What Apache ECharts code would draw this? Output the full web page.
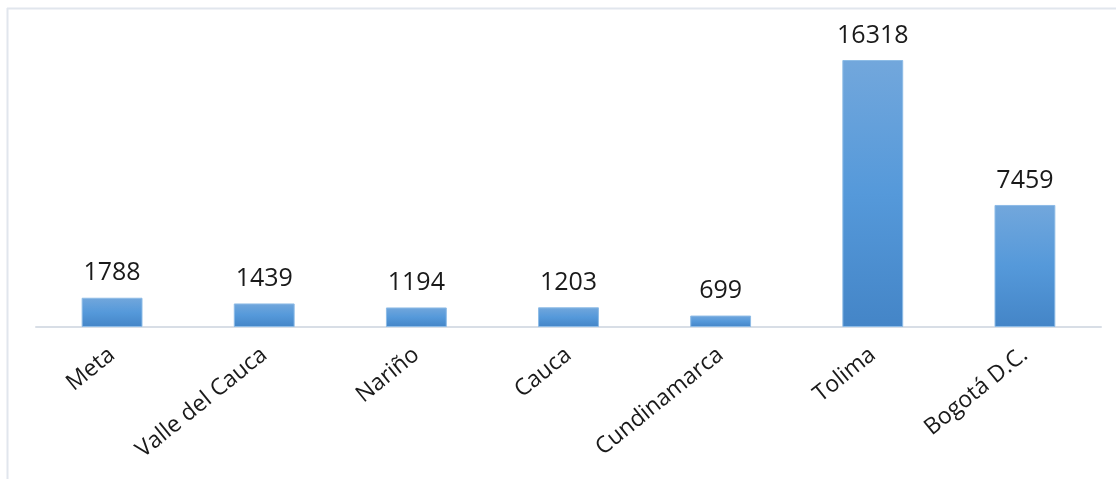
<!DOCTYPE html>
<html>
<head>
<meta charset="utf-8">
<script src="https://cdn.jsdelivr.net/npm/echarts@6/dist/echarts.min.js"></script>
<style>
html,body{margin:0;padding:0;background:#fff;}
#chart{width:1116px;height:479px;}
</style>
</head>
<body>
<div id="chart"></div>
<script>
const categories = ['Meta', 'Valle del Cauca', 'Nariño', 'Cauca', 'Cundinamarca', 'Tolima', 'Bogotá D.C.'];
const values = [1788, 1439, 1194, 1203, 699, 16318, 7459];

const chart = echarts.init(document.getElementById('chart'), null, {renderer: 'canvas'});
chart.setOption({
  animation: false,
  backgroundColor: '#ffffff',
  graphic: [
    {type: 'line', shape: {x1: 7, y1: 8.5, x2: 1116, y2: 8.5}, style: {stroke: '#e1e6ed', lineWidth: 2}},
    {type: 'line', shape: {x1: 7.5, y1: 8, x2: 7.5, y2: 479}, style: {stroke: '#e1e6ed', lineWidth: 2}}
  ],
  grid: {left: 36, right: 15, top: 32.5, bottom: 152, containLabel: false},
  xAxis: {
    type: 'category',
    data: categories,
    axisTick: {show: false},
    axisLine: {show: true, lineStyle: {color: '#d8dee6', width: 2}},
    axisLabel: {
      rotate: 39,
      margin: 25,
      interval: 0,
      color: '#1a1a1a',
      fontFamily: 'Open Sans',
      fontSize: 23
    }
  },
  yAxis: {
    type: 'value',
    min: 0,
    max: 18000,
    show: false,
    splitLine: {show: false}
  },
  series: [{
    type: 'bar',
    data: values,
    barWidth: '40%',
    itemStyle: {
      color: new echarts.graphic.LinearGradient(0, 0, 0, 1, [
        {offset: 0, color: '#72a7dc'},
        {offset: 0.5, color: '#5599da'},
        {offset: 1, color: '#4485c7'}
      ]),
      borderColor: '#8dbbe6',
      borderWidth: 1
    },
    label: {
      show: true,
      position: 'top',
      distance: 12,
      color: '#1a1a1a',
      fontFamily: 'Open Sans',
      fontSize: 25
    }
  }]
});
</script>
</body>
</html>
